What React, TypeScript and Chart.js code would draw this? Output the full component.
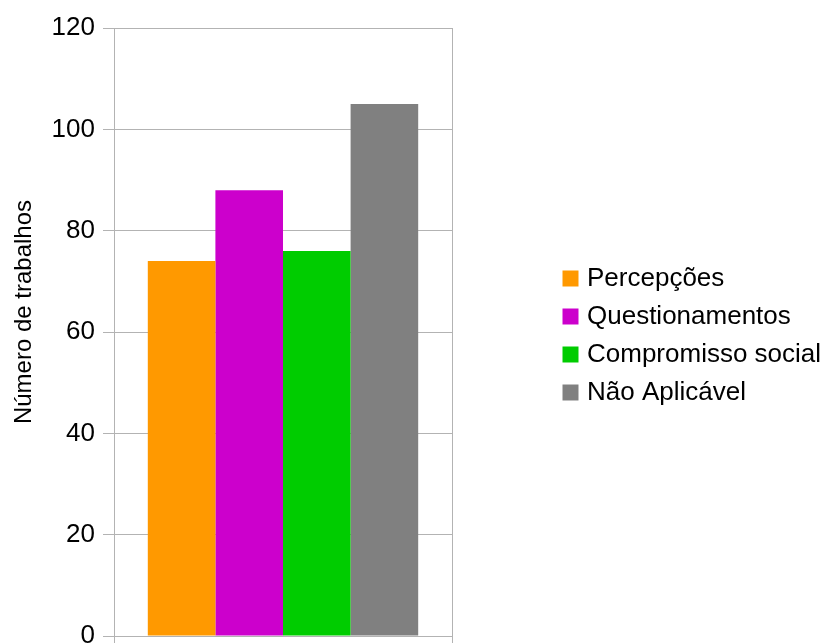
import React, { useEffect, useRef } from "react";
import { Chart, registerables } from "chart.js";

Chart.register(...registerables);

const categories = [""];
const seriesLabels = ["Percepções", "Questionamentos", "Compromisso social", "Não Aplicável"];
const seriesValues = [74, 88, 76, 105];
const seriesColors = ["#ff9900", "#cc00cc", "#00cc00", "#808080"];
const yMin = 0;
const yMax = 120;
const yStep = 20;
const yTitle = "\u00a0\u00a0\u00a0\u00a0\u00a0\u00a0Número de trabalhos";

const FONT = "'Liberation Sans', Arial, sans-serif";
const GRID = "#b3b3b3";
const W = 824;
const H = 643;
const PLOT_LEFT = 114;
const PLOT_RIGHT = 452;
const PLOT_TOP = 28;
const X_AXIS_H = 7;
const LEGEND_LEFT = 555;

export default function App() {
  const ref = useRef<HTMLCanvasElement | null>(null);

  useEffect(() => {
    if (!ref.current) return;
    const legendPlacer = {
      id: "legendPlacer",
      afterInit(chart: any) {
        const lg = chart.legend;
        if (!lg) return;
        const orig = lg.fit.bind(lg);
        lg.fit = function () {
          orig();
          lg.width = W - PLOT_RIGHT;
        };
      },
      afterLayout(chart: any) {
        const lg = chart.legend;
        if (!lg) return;
        lg.left = LEGEND_LEFT;
      },
    };
    const chart = new Chart(ref.current, {
      type: "bar",
      data: {
        labels: categories,
        datasets: seriesLabels.map((label, i) => ({
          label,
          data: [seriesValues[i]],
          backgroundColor: seriesColors[i],
          borderWidth: 0,
          categoryPercentage: 0.8,
          barPercentage: 1.0,
        })),
      },
      options: {
        responsive: false,
        animation: false,
        devicePixelRatio: 1,
        layout: { padding: { top: PLOT_TOP, right: 0, bottom: 0, left: 0 } },
        plugins: {
          tooltip: { enabled: false },
          legend: {
            position: "right",
            align: "center",
            labels: {
              font: { family: FONT, size: 26 },
              color: "#000",
              usePointStyle: true,
              pointStyle: "rect",
              boxWidth: 7,
              boxHeight: 16,
              padding: 12,
            },
          },
        },
        scales: {
          x: {
            offset: true,
            grid: {
              offset: true,
              color: GRID,
              lineWidth: 1,
              drawTicks: true,
              tickLength: X_AXIS_H,
            },
            border: { display: true, color: GRID },
            ticks: { display: false },
            afterFit: (scale: any) => {
              scale.height = X_AXIS_H;
              scale.paddingLeft = 0;
              scale.paddingRight = 0;
            },
          },
          y: {
            min: yMin,
            max: yMax,
            ticks: {
              stepSize: yStep,
              color: "#000",
              font: { family: FONT, size: 26 },
              padding: 8,
            },
            grid: { color: GRID, lineWidth: 1, tickLength: 11 },
            border: { display: true, color: GRID },
            title: {
              display: true,
              text: yTitle,
              color: "#000",
              font: { family: FONT, size: 24 },
              padding: { top: 10, bottom: 6 },
            },
            afterFit: (scale: any) => {
              scale.width = PLOT_LEFT;
              scale.paddingTop = 0;
              scale.paddingBottom = 0;
            },
          },
        },
      },
      plugins: [legendPlacer],
    });
    return () => chart.destroy();
  }, []);

  return (
    <div style={{ position: "absolute", left: 0, top: 0, width: W, height: H, background: "#fff" }}>
      <canvas ref={ref} width={W} height={H} style={{ display: "block" }} />
    </div>
  );
}
